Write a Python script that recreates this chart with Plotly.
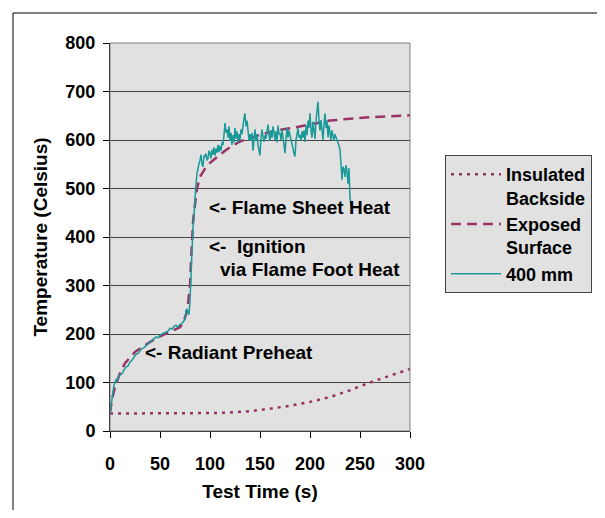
import plotly.graph_objects as go

# ---- data ----
ins_t = [0, 20, 40, 60, 80, 100, 120, 140, 160, 180, 200, 220, 240, 260, 280, 300]
ins_T = [36, 36, 36, 36, 36, 37, 38, 41, 46, 52, 60, 70, 84, 100, 114, 128]

exp_t = [0, 2, 5, 10, 15, 20, 25, 30, 35, 40, 45, 50, 55, 60, 65, 70, 73, 76, 78,
         80, 81, 82, 83, 84, 85, 87, 90, 95, 100, 105, 110, 115, 120, 130, 140, 150,
         160, 170, 180, 190, 200, 210, 220, 230, 240, 250, 260, 270, 280, 290, 300]
exp_T = [37, 65, 91, 119, 140, 152, 163, 170, 177, 184, 190, 195, 200, 205, 210, 214,
         222, 240, 262, 300, 350, 400, 430, 450, 465, 500, 524, 541, 553, 562, 571,
         578, 585, 597, 604, 611, 616, 621, 624, 628, 632, 636, 640, 642, 644, 645,
         647, 648, 649, 650, 651]

mm_t = [0, 1, 2, 3, 4, 5, 6, 7, 8, 10, 12, 14, 16, 18, 20, 22, 24, 26, 28, 30, 32,
        34, 36, 38, 40, 42, 44, 46, 48, 50, 52, 54, 56, 58, 60, 62, 64, 66, 68, 70,
        72, 74, 75, 76, 77, 78, 79, 80, 81, 82, 83, 84, 85, 86, 87, 88, 89] + list(range(90, 243))
mm_T = [37, 55, 70, 80, 95, 100, 106, 104, 110, 116, 118, 126, 132, 134, 142, 146,
        152, 158, 160, 166, 170, 172, 176, 180, 184, 186, 190, 194, 192, 198, 200,
        202, 205, 206, 212, 210, 216, 218, 214, 220, 222, 226, 230, 246, 252, 244,
        240, 270, 330, 390, 420, 445, 490, 510, 530, 545, 552,
        558, 570, 550, 545, 568, 566, 572, 558, 562, 578, 573, 562, 580, 570, 585,
        568, 582, 574, 590, 575, 588, 578, 595, 590, 610, 635, 615, 622, 605, 628,
        598, 615, 590, 610, 595, 625, 603, 618, 595, 612, 600, 622, 612, 636, 645,
        655, 628, 640, 620, 600, 612, 598, 615, 578, 600, 622, 598, 612, 590, 575,
        568, 605, 622, 608, 596, 610, 603, 618, 632, 610, 598, 620, 605, 628, 606,
        600, 618, 595, 630, 612, 614, 600, 622, 605, 590, 573, 600, 625, 605, 620,
        610, 602, 595, 583, 572, 566, 600, 615, 624, 605, 610, 598, 618, 605, 620,
        596, 630, 610, 640, 625, 655, 620, 605, 638, 612, 602, 640, 660, 679, 640,
        620, 641, 610, 600, 632, 655, 625, 640, 605, 630, 615, 600, 620, 605, 598,
        612, 607, 600, 596, 588, 580, 555, 518, 545, 540, 524, 548, 535, 510, 542,
        480, 468, 458]

x_ticks = [0, 50, 100, 150, 200, 250, 300]
y_ticks = [0, 100, 200, 300, 400, 500, 600, 700, 800]

MAROON = "#993366"
TEAL = "#1a9999"
FONT = "Liberation Sans"

fig = go.Figure()
fig.add_trace(go.Scatter(x=ins_t, y=ins_T, mode="lines", name="Insulated<br>Backside",
                         line=dict(color=MAROON, width=2.5, dash="3px,5px")))
fig.add_trace(go.Scatter(x=exp_t, y=exp_T, mode="lines", name="Exposed<br>Surface",
                         line=dict(color=MAROON, width=2.5, dash="10px,6px")))
fig.add_trace(go.Scatter(x=mm_t, y=mm_T, mode="lines", name="400 mm",
                         line=dict(color=TEAL, width=1.5)))

ann_font = dict(family=FONT, size=19, color="black", weight="bold")
for txt, x, y in [("<- Flame Sheet Heat", 97, 460),
                  ("<-  Ignition", 97, 381),
                  ("via Flame Foot Heat", 108, 334),
                  ("<- Radiant Preheat", 33, 161)]:
    fig.add_annotation(x=x, y=y, text=txt, showarrow=False, xanchor="left",
                       yanchor="middle", font=ann_font)

# outer chart border: top and left edges (the rest lies beyond the page)
bx0 = (5 - 102) / 300
by1 = (423 - 5) / 388
fig.add_shape(type="line", xref="paper", yref="paper", x0=bx0, x1=1.7, y0=by1, y1=by1,
              line=dict(color="black", width=1), layer="below")
fig.add_shape(type="line", xref="paper", yref="paper", x0=bx0, x1=bx0, y0=-0.5, y1=by1,
              line=dict(color="black", width=1), layer="below")
# plot area border
fig.add_shape(type="rect", xref="paper", yref="paper", x0=0, x1=1, y0=0, y1=1,
              line=dict(color="#808080", width=1), fillcolor="rgba(0,0,0,0)")

fig.update_layout(
    width=597, height=502,
    margin=dict(l=102, r=195, t=35, b=79),
    paper_bgcolor="white",
    plot_bgcolor="#e1e1e1",
    font=dict(family=FONT, color="black", weight="bold"),
    showlegend=True,
    legend=dict(x=(445 - 110) / 300, y=(431 - 155) / 388, xanchor="left", yanchor="top",
                bgcolor="#e1e1e1", bordercolor="#444444", borderwidth=1,
                font=dict(family=FONT, size=18, color="black", weight="bold"),
                itemwidth=50, valign="top", tracegroupgap=6),
    xaxis=dict(range=[0, 300], tickvals=x_ticks, ticktext=[str(v) for v in x_ticks],
               showgrid=False, zeroline=False, showline=True, linecolor="black",
               linewidth=1, ticks="outside", ticklen=6, tickcolor="black",
               ticklabelstandoff=10,
               tickfont=dict(family=FONT, size=18, weight="bold"),
               title=dict(text="Test Time (s)", standoff=12,
                          font=dict(family=FONT, size=19, weight="bold"))),
    yaxis=dict(range=[0, 800], tickvals=y_ticks, ticktext=[str(v) for v in y_ticks],
               showgrid=True, gridcolor="#444444", gridwidth=1, zeroline=False,
               showline=True, linecolor="black", linewidth=1, ticks="outside",
               ticklen=6, tickcolor="black", ticklabelstandoff=4,
               tickfont=dict(family=FONT, size=18, weight="bold"),
               title=dict(text="Temperature (Celsius)", standoff=12,
                          font=dict(family=FONT, size=19, weight="bold"))),
)

fig.write_html("out.html")
